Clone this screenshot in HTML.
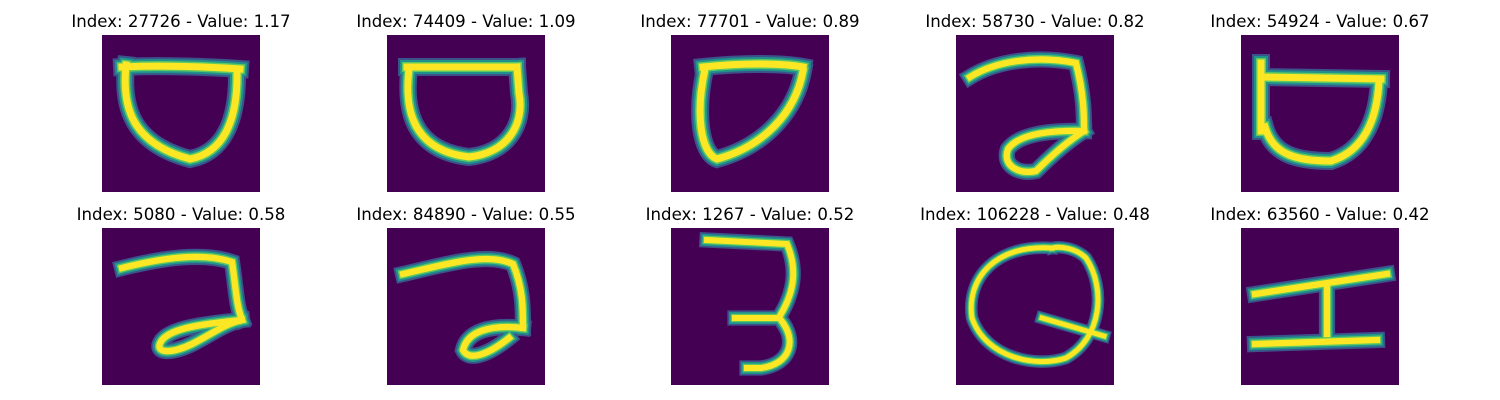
<!DOCTYPE html>
<html><head><meta charset="utf-8"><style>
html,body{margin:0;padding:0;background:#fff;width:1500px;height:400px;overflow:hidden}
svg{display:block}
text{font-family:"DejaVu Sans","Liberation Sans",sans-serif;font-size:16.6px;fill:#000}
</style></head><body>
<svg id="fig" width="1500" height="400" viewBox="0 0 1500 400"></svg>
<script>
const indices = [27726, 74409, 77701, 58730, 54924, 5080, 84890, 1267, 106228, 63560];
const values = ["1.17", "1.09", "0.89", "0.82", "0.67", "0.58", "0.55", "0.52", "0.48", "0.42"];
const strokes = [
 ["M20,32 C60,30 110,32 138,34","M24,30 C20,70 28,108 88,124 C120,118 136,88 135,36"],
 ["M20,32 L130,32","M22,34 C16,80 30,116 82,122 C120,118 138,90 132,58 L130,32"],
 ["M32,32 C70,28 110,28 132,32","M34,34 C24,80 30,118 46,124 C90,112 124,80 132,36"],
 ["M14,42 C40,26 80,20 120,28 C128,60 128,80 128,96","M128,96 C90,95 62,100 52,114 C46,130 62,140 80,136 C96,120 112,106 128,96"],
 ["M20,28 L20,96","M22,42 L140,44","M24,92 C32,120 56,126 90,126 C122,116 136,86 138,46"],
 ["M20,40 C60,30 100,24 130,34 C134,60 134,76 140,92","M140,92 C100,96 70,100 60,112 C50,126 70,126 90,116 C110,106 122,96 140,92"],
 ["M16,46 C60,36 100,24 126,36 C136,60 136,80 136,100","M136,100 C102,96 80,104 76,122 C82,134 102,126 122,110"],
 ["M36,12 L116,16 C126,40 124,62 110,86","M64,90 L106,90","M110,92 C126,112 120,136 90,140 L76,140"],
 ["M96,20 C40,16 10,50 16,90 C30,130 80,140 110,130 C146,110 150,60 130,30 C120,20 104,18 96,20","M86,90 L148,108"],
 ["M14,66 L146,46","M86,60 L86,106","M14,116 L136,112"]
];
const widths = [1, 1, 1, 0.9, 1, 0.9, 0.9, 0.85, 0.7, 0.9];
const colX = [102, 387, 671, 956, 1241];
const rowY = [35, 228];
const W = 158, H = 157;
const svg = document.getElementById('fig');
const NS = 'http://www.w3.org/2000/svg';
for (let i = 0; i < indices.length; i++) {
  const x = colX[i % 5], y = rowY[Math.floor(i / 5)];
  const g = document.createElementNS(NS, 'g');
  
  
  const t = document.createElementNS(NS, 'text');
  
  
  t.setAttribute('x', x + W / 2); t.setAttribute('y', y - 8);
  t.setAttribute('text-anchor', 'middle');
  t.textContent = 'Index: ' + indices[i] + ' - Value: ' + values[i];
  g.appendChild(t);
  const r = document.createElementNS(NS, 'rect');
  
  
  r.setAttribute('x', x); r.setAttribute('y', y);
  r.setAttribute('width', W); r.setAttribute('height', H);
  r.setAttribute('fill', '#440154');
  g.appendChild(r);
  const layers = [[18, '#3b528b'], [14, '#21918c'], [10, '#5ec962'], [7, '#fde725']];
  layers.forEach(([w, c]) => {
    strokes[i].forEach(d => {
      const p = document.createElementNS(NS, 'path');
      
      
      p.setAttribute('d', d);
      p.setAttribute('transform', 'translate(' + x + ',' + y + ')');
      p.setAttribute('fill', 'none');
      p.setAttribute('stroke', c);
      p.setAttribute('stroke-width', w * widths[i]);
      p.setAttribute('stroke-linecap', 'square');
      p.setAttribute('stroke-linejoin', 'miter');
      g.appendChild(p);
    });
  });
  svg.appendChild(g);
}
</script>
</body></html>
